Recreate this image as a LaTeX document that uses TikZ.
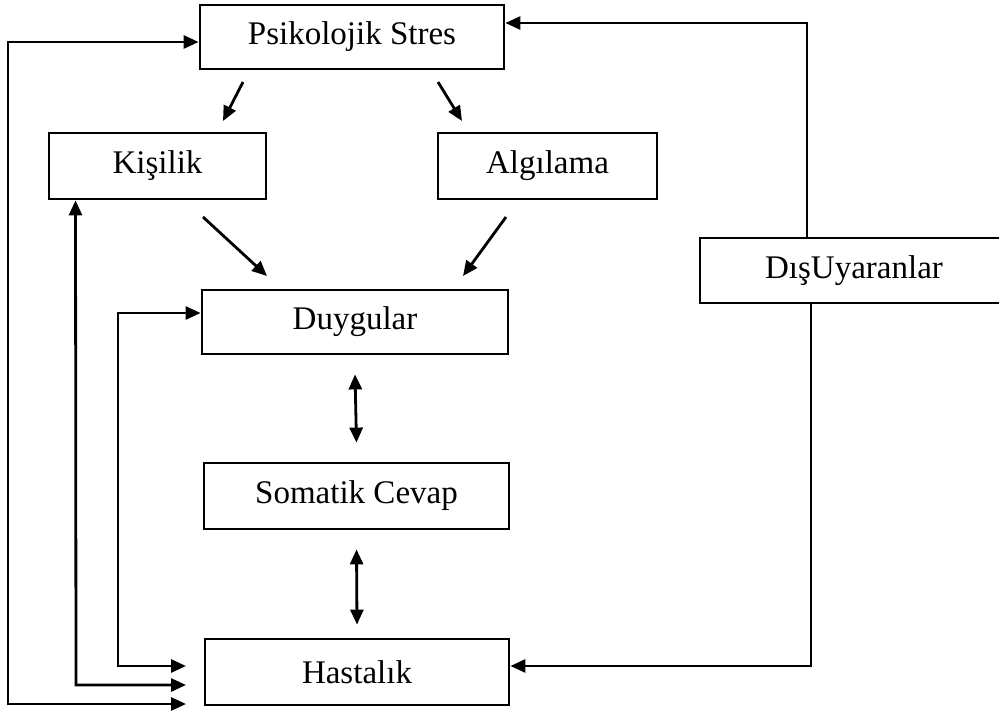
\documentclass[tikz,border=0pt]{standalone}
\usepackage{fontspec}
\setmainfont{Liberation Serif}
\usetikzlibrary{arrows.meta}
\begin{document}
\begin{tikzpicture}[x=1pt,y=-1pt,
  box/.style={draw,line width=2.8pt,rectangle,inner sep=0pt,font=\fontsize{33}{39}\selectfont},
  conn/.style={line width=2.8pt,-{Triangle[length=15pt,width=13pt]}},
  dconn/.style={line width=2.8pt,{Triangle[length=15pt,width=13pt]}-{Triangle[length=15pt,width=13pt]}}]
\useasboundingbox (0,0) rectangle (999,714);
\node[box,minimum width=304pt,minimum height=64pt] (ps) at (352,37) {Psikolojik Stres};
\node[box,minimum width=217pt,minimum height=66pt] (kis) at (157.5,166) {Kişilik};
\node[box,minimum width=219pt,minimum height=66pt] (alg) at (547.5,166) {Algılama};
\node[box,minimum width=306pt,minimum height=64pt] (duy) at (355,322) {Duygular};
\node[box,minimum width=305pt,minimum height=66pt] (som) at (356.5,496) {Somatik Cevap};
\node[box,minimum width=304pt,minimum height=66pt] (has) at (357,672) {Hastalık};
\node[box,minimum width=308pt,minimum height=65pt] (dis) at (854,270.5) {DışUyaranlar};
% free ends
\coordinate (a1s) at (243,82); \coordinate (a1e) at (223,121);
\coordinate (a2s) at (438,82); \coordinate (a2e) at (462,121);
\coordinate (a3s) at (203,217); \coordinate (a3e) at (267,276);
\coordinate (a4s) at (506,217); \coordinate (a4e) at (463,276);
\coordinate (h1) at (186,704); \coordinate (h2) at (186,685); \coordinate (h3) at (186,666);
\draw[conn] (a1s) -- (a1e);
\draw[conn] (a2s) -- (a2e);
\draw[conn] (a3s) -- (a3e);
\draw[conn] (a4s) -- (a4e);
\draw[dconn] ([yshift=-19pt]duy.south) -- ([yshift=19pt]som.north);
\draw[dconn] ([yshift=-19pt]som.south) -- ([yshift=13pt]has.north);
% left feedback lines
\draw[dconn] ([yshift=-5pt]ps.west) -- (8,42) -- (8,704) -- (h1);
\draw[dconn] ([xshift=-82pt]kis.south) -- (76,685) -- (h2);
\draw[dconn] ([yshift=9pt]duy.west) -- (118,313) -- (118,666) -- (h3);
% right feedback lines
\draw[conn] ([xshift=-47pt]dis.north) |- ([yshift=14pt]ps.east);
\draw[conn] ([xshift=-43pt]dis.south) |- ([yshift=6pt]has.east);
\end{tikzpicture}
\end{document}
